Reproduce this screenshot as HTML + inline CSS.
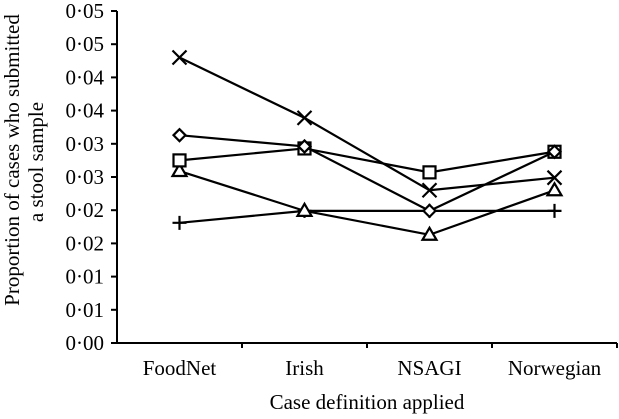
<!DOCTYPE html>
<html><head><meta charset="utf-8"><style>
body{margin:0;background:#fff}
svg text{font-family:"Liberation Serif",serif;fill:#000}
</style></head><body>
<svg id="chart" width="619" height="414" xmlns="http://www.w3.org/2000/svg">
<g id="axes"></g><g id="series"></g>
<text x="367" y="409" font-size="21" text-anchor="middle">Case definition applied</text>
<text transform="translate(19,160) rotate(-90)" font-size="21" text-anchor="middle">Proportion of cases who submitted</text>
<text transform="translate(43,162) rotate(-90)" font-size="21" text-anchor="middle">a stool sample</text>
</svg>
<script>
const categories=["FoodNet","Irish","NSAGI","Norwegian"];
const yTicks=[0,0.005,0.01,0.015,0.02,0.025,0.03,0.035,0.04,0.045,0.05];
const yTickLabels=["0·00","0·01","0·01","0·02","0·02","0·03","0·03","0·04","0·04","0·05","0·05"];
const seriesCross=[0.0430,0.0339,0.0230,0.0249];
const seriesDiamond=[0.0313,0.0296,0.0199,0.0288];
const seriesSquare=[0.0275,0.0293,0.0257,0.0288];
const seriesTriangle=[0.0259,0.0199,0.0163,0.0230];
const seriesPlus=[0.0181,0.0199,0.0199,0.0199];
const NS="http://www.w3.org/2000/svg";
const X0=117,X1=617,Y0=343,Y1=11;
const xs=i=>X0+(i+0.5)*(X1-X0)/categories.length;
const ys=v=>Y0-v/0.05*(Y0-Y1);
function mk(t,a,p){const e=document.createElementNS(NS,t);for(const k in a)e.setAttribute(k,a[k]);p.appendChild(e);return e;}
const ax=document.getElementById('axes'),sg=document.getElementById('series');
let l=mk('line',{x1:X0,y1:Y1,x2:X0,y2:Y0,stroke:'#000','stroke-width':2},ax);

l=mk('line',{x1:X0-1,y1:Y0,x2:X1,y2:Y0,stroke:'#000','stroke-width':2},ax);

yTicks.forEach((v,i)=>{
 const t=mk('line',{x1:X0-6,y1:ys(v),x2:X0,y2:ys(v),stroke:'#000','stroke-width':2},ax);
 
 const tx=mk('text',{x:X0-13,y:ys(v)+7,'font-size':21,'text-anchor':'end'},ax);
 tx.textContent=yTickLabels[i];
 
});
for(let i=1;i<=categories.length;i++){
 const bx=X0+i*(X1-X0)/categories.length;
 const t=mk('line',{x1:bx,y1:Y0,x2:bx,y2:Y0+5,stroke:'#000','stroke-width':2},ax);
 
}
categories.forEach((c,i)=>{
 const tx=mk('text',{x:xs(i),y:375,'font-size':21,'text-anchor':'middle'},ax);
 tx.textContent=c;
 
});
function marker(type,x,y,g){
 const s={stroke:'#000','stroke-width':2.2,fill:'#fff'};
 if(type==='cross'){mk('path',{d:`M${x-7} ${y-7}L${x+7} ${y+7}M${x-7} ${y+7}L${x+7} ${y-7}`,...s},g);}
 else if(type==='plus'){mk('path',{d:`M${x-7} ${y}L${x+7} ${y}M${x} ${y-7}L${x} ${y+7}`,...s},g);}
 else if(type==='square'){mk('rect',{x:x-6,y:y-6,width:12,height:12,...s},g);}
 else if(type==='diamond'){mk('path',{d:`M${x} ${y-6}L${x+6} ${y}L${x} ${y+6}L${x-6} ${y}Z`,...s},g);}
 else {mk('path',{d:`M${x} ${y-7}L${x+7} ${y+5}L${x-7} ${y+5}Z`,...s},g);}
}
[["plus",seriesPlus],["triangle",seriesTriangle],["square",seriesSquare],["diamond",seriesDiamond],["cross",seriesCross]].forEach(([type,data])=>{
 const g=mk('g',{},sg);
 
 const p=mk('polyline',{points:data.map((v,i)=>xs(i)+','+ys(v)).join(' '),fill:'none',stroke:'#000','stroke-width':2.2},g);
 
 data.forEach((v,i)=>marker(type,xs(i),ys(v),g));
});
</script>
</body></html>
